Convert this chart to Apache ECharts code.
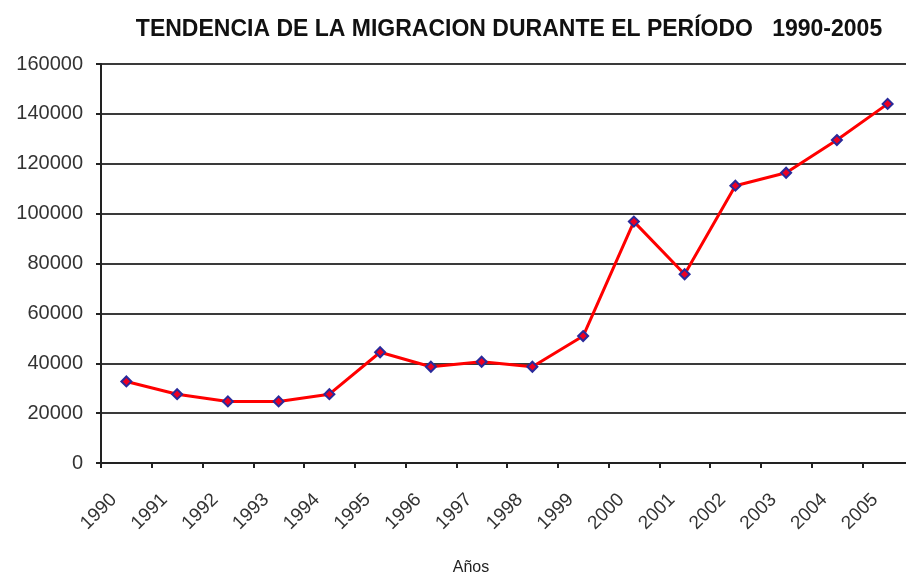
<!DOCTYPE html>
<html>
<head>
<meta charset="utf-8">
<script src="https://cdn.jsdelivr.net/npm/echarts@6/dist/echarts.min.js"></script>
<style>
  html, body { margin: 0; padding: 0; background: #fff; overflow: hidden; }
  #chart { width: 913px; height: 574px; }
</style>
</head>
<body>
<div id="chart"></div>
<script>
// años y migración
var years = ['1990', '1991', '1992', '1993', '1994', '1995', '1996', '1997',
  '1998', '1999', '2000', '2001', '2002', '2003', '2004', '2005'];
var migracion = [32700, 27600, 24700, 24700, 27600, 44400, 38600, 40600,
  38600, 50900, 96800, 75700, 111200, 116400, 129500, 144000];

var chart = echarts.init(document.getElementById('chart'));

var option = {
  animation: false,
  backgroundColor: '#fff',
  title: [{
    text: 'TENDENCIA DE LA MIGRACION DURANTE EL PERÍODO   1990-2005',
    left: 504,
    top: 13,
    textAlign: 'center',
    textStyle: {
      fontFamily: 'Liberation Sans',
      fontWeight: 'bold',
      fontSize: 23,
      color: '#111'
    }
  }, {
    text: 'Años',
    left: 466,
    top: 555,
    textAlign: 'center',
    textStyle: {
      fontFamily: 'Liberation Sans',
      fontWeight: 'normal',
      fontSize: 16,
      color: '#222'
    }
  }],
  // el gráfico original está recortado a la derecha
  grid: { left: 101, right: 0, top: 64, bottom: 111, containLabel: false },
  xAxis: {
    type: 'category',
    data: years,
    boundaryGap: true,
    axisLine: { lineStyle: { color: '#222', width: 2 } },
    axisTick: { show: true, length: 5, lineStyle: { color: '#222', width: 2 } },
    axisLabel: {
      rotate: 45,
      margin: 21,
      padding: [0, 18, 0, 0],
      fontFamily: 'Liberation Sans',
      fontSize: 19,
      color: '#333'
    }
  },
  yAxis: {
    type: 'value',
    min: 0,
    max: 160000,
    interval: 20000,
    axisLine: { show: true, lineStyle: { color: '#222', width: 2 } },
    axisTick: { show: true, length: 5, lineStyle: { color: '#222', width: 2 } },
    axisLabel: {
      margin: 18,
      fontFamily: 'Liberation Sans',
      fontSize: 20,
      color: '#333',
      formatter: function(v) { return String(v); }
    },
    splitLine: { show: true, lineStyle: { color: '#3a3a3a', width: 2 } }
  },
  series: [{
    type: 'line',
    data: migracion,
    symbol: 'diamond',
    symbolSize: 10,
    lineStyle: { color: '#ff0000', width: 3 },
    itemStyle: { color: '#ee0022', borderColor: '#2a2a9a', borderWidth: 2 }
  }]
};

chart.setOption(option);
</script>
</body>
</html>
